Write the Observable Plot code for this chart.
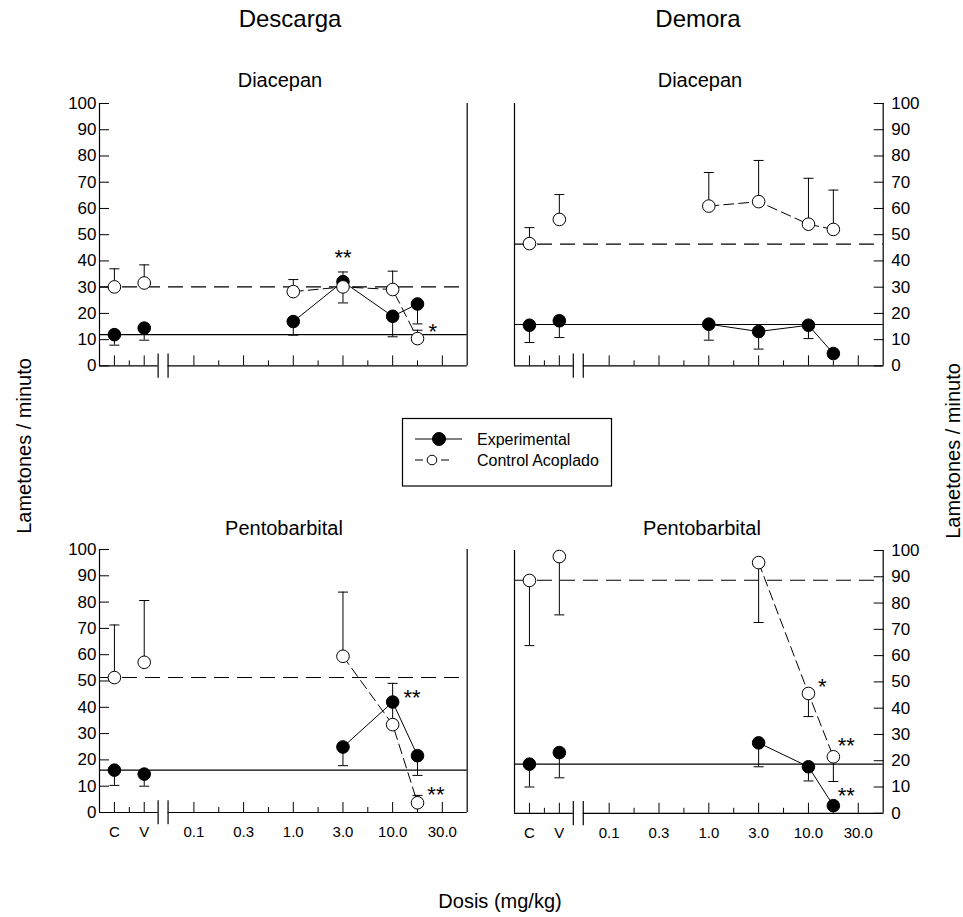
<!DOCTYPE html>
<html><head><meta charset="utf-8">
<script src="https://cdn.jsdelivr.net/npm/d3@7"></script>
<script src="https://cdn.jsdelivr.net/npm/@observablehq/plot@0.6"></script>
<style>
body{margin:0;background:#fff;}
#root{position:relative;width:963px;height:917px;overflow:hidden;background:#fff;font-family:"Liberation Sans",Arial,sans-serif;}
#root svg{position:absolute;overflow:visible;}
</style></head><body><div id="root"></div>
<script>
// ---- data ----
const doseKeys = ["C", "V", "1.0", "3.0", "10.0", "17"];
const dosePos = [-1.6, -1.0, 2, 3, 4, 4.5];
const doseIsDrug = [false, false, true, true, true, true];
const tickLabels = ["C", "V", "0.1", "0.3", "1.0", "3.0", "10.0", "30.0"];
const tickPos = [-1.6, -1.0, 0, 1, 2, 3, 4, 5];
const minorTickPos = [-1.3, 0.5, 1.5, 2.5, 3.5, 4.5];
const yTicks = [0, 10, 20, 30, 40, 50, 60, 70, 80, 90, 100];

// Descarga – Diacepan
const descDiaExp = [11.9, 14.4, 16.9, 32.1, 18.9, 23.6];
const descDiaExpErr = [7.9, 9.8, 11.7, 24.0, 11.1, 16.0];
const descDiaCtl = [30.1, 31.6, 28.3, 30.1, 29.1, 10.4];
const descDiaCtlErr = [37.0, 38.5, 32.9, 35.8, 36.1, 13.6];
const descDiaBase = [11.9, 30.1];
const descDiaStars = [{x: 3, y: 41.2, t: "**"}, {x: 4.81, y: 12.8, t: "*"}];

// Demora – Diacepan
const demDiaExp = [15.5, 17.2, 15.9, 13.1, 15.5, 4.7];
const demDiaExpErr = [8.9, 10.8, 9.8, 6.4, 10.4, null];
const demDiaCtl = [46.6, 55.8, 60.9, 62.6, 54.0, 52.0];
const demDiaCtlErr = [52.7, 65.3, 73.7, 78.3, 71.5, 67.0];
const demDiaBase = [15.8, 46.4];
const demDiaStars = [];

// Descarga – Pentobarbital
const descPenExp = [16.1, 14.6, null, 24.9, 42.0, 21.6];
const descPenExpErr = [10.3, 10.0, null, 17.8, null, 14.1];
const descPenCtl = [51.3, 57.1, null, 59.4, 33.4, 3.7];
const descPenCtlErr = [71.3, 80.6, null, 83.8, 49.1, 6.5];
const descPenBase = [16.1, 51.3];
const descPenStars = [{x: 4.39, y: 43.6, t: "**"}, {x: 4.87, y: 6.7, t: "**"}];

// Demora – Pentobarbital
const demPenExp = [18.7, 23.1, null, 26.8, 17.7, 2.9];
const demPenExpErr = [10.0, 13.5, null, 17.7, 12.3, null];
const demPenCtl = [88.6, 97.7, null, 95.4, 45.6, 21.5];
const demPenCtlErr = [63.8, 75.5, null, 72.6, 36.8, 12.1];
const demPenBase = [18.7, 88.7];
const demPenStars = [{x: 4.28, y: 48.2, t: "*"}, {x: 4.76, y: 25.5, t: "**"}, {x: 4.76, y: 6.5, t: "**"}];

// ---- layout ----
const FONT = "Liberation Sans, Arial, Helvetica, sans-serif";
const xDomain = [-1.9, 5.5];
const breaks = [-0.72, -0.52];
const labelMap = new Map(tickPos.map((p, i) => [p, tickLabels[i]]));
const cap = {draw(ctx) { ctx.moveTo(-5, 0); ctx.lineTo(5, 0); }};
const root = document.getElementById("root");

function rows(vals, errs) {
  return doseKeys.map((k, i) => ({dose: k, x: dosePos[i], v: vals[i], e: errs[i], drug: doseIsDrug[i]}))
    .filter(d => d.v != null);
}

function panel(cfg) {
  const {left, top, right, bottom, side, showX, exp, expErr, ctl, ctlErr, base, stars} = cfg;
  const mL = 70, mR = 80, mT = 12, mB = 45;
  const E = rows(exp, expErr), C = rows(ctl, ctlErr);
  const Ee = E.filter(d => d.e != null), Ce = C.filter(d => d.e != null);
  const El = E.filter(d => d.drug), Cl = C.filter(d => d.drug);
  const frameX = side === "left" ? xDomain[1] : xDomain[0];
  const axisXv = side === "left" ? xDomain[0] : xDomain[1];
  const svg = Plot.plot({
    width: right - left + mL + mR,
    height: bottom - top + mT + mB,
    marginLeft: mL, marginRight: mR, marginTop: mT, marginBottom: mB,
    style: {fontFamily: FONT, fontSize: "17px", color: "#000", background: "transparent", overflow: "visible"},
    x: {type: "linear", domain: xDomain, axis: null},
    y: {type: "linear", domain: [0, 100], axis: null},
    marks: [
      Plot.ruleY([base[1]], {stroke: "#000", strokeWidth: 1.1, strokeDasharray: "15,8"}),
      Plot.ruleY([base[0]], {stroke: "#000", strokeWidth: 1.1}),
      Plot.ruleY([0], {x1: xDomain[0], x2: breaks[0], stroke: "#000", strokeWidth: 1.2}),
      Plot.ruleY([0], {x1: breaks[1], x2: xDomain[1], stroke: "#000", strokeWidth: 1.2}),
      Plot.ruleX(breaks, {y1: -4.7, y2: 4.5, stroke: "#000", strokeWidth: 1.2}),
      Plot.ruleX([axisXv, frameX], {y1: 0, y2: 100, stroke: "#000", strokeWidth: 1.2}),
      Plot.axisY({anchor: side, ticks: yTicks, tickSize: 10, tickPadding: side === "left" ? 3 : 8,
        dx: side === "left" ? 10 : -10, label: null, fontSize: 17, tickFormat: d => String(d)}),
      Plot.axisX({anchor: "bottom", ticks: minorTickPos, tickSize: 5, dy: -5, tickFormat: () => "", label: null}),
      Plot.axisX({anchor: "bottom", ticks: tickPos, tickSize: 10, dy: -10, tickPadding: 20, lineAnchor: "middle",
        tickFormat: d => showX ? labelMap.get(d) : "", label: null, fontSize: 15}),
      Plot.line(El, {x: "x", y: "v", stroke: "#000", strokeWidth: 1}),
      Plot.line(Cl, {x: "x", y: "v", stroke: "#000", strokeWidth: 1, strokeDasharray: "10,5"}),
      Plot.ruleX(Ee, {x: "x", y1: "v", y2: "e", stroke: "#000", strokeWidth: 1}),
      Plot.dot(Ee, {x: "x", y: "e", symbol: cap, stroke: "#000", fill: "none", strokeWidth: 1}),
      Plot.ruleX(Ce, {x: "x", y1: "v", y2: "e", stroke: "#000", strokeWidth: 1}),
      Plot.dot(Ce, {x: "x", y: "e", symbol: cap, stroke: "#000", fill: "none", strokeWidth: 1}),
      Plot.dot(E, {x: "x", y: "v", r: 6.3, fill: "#000", stroke: "#000", strokeWidth: 1}),
      Plot.dot(C, {x: "x", y: "v", r: 6.3, fill: "#fff", stroke: "#000", strokeWidth: 1}),
      Plot.text(stars, {x: "x", y: "y", text: "t", fontSize: 22, fill: "#000"})
    ]
  });
  svg.style.left = (left - mL) + "px";
  svg.style.top = (top - mT) + "px";
  root.appendChild(svg);
}

panel({left: 99.3, top: 103.3, right: 467, bottom: 365.7, side: "left", showX: false,
  exp: descDiaExp, expErr: descDiaExpErr, ctl: descDiaCtl, ctlErr: descDiaCtlErr, base: descDiaBase, stars: descDiaStars});
panel({left: 514, top: 103.3, right: 882.7, bottom: 365.7, side: "right", showX: false,
  exp: demDiaExp, expErr: demDiaExpErr, ctl: demDiaCtl, ctlErr: demDiaCtlErr, base: demDiaBase, stars: demDiaStars});
panel({left: 99.3, top: 549.3, right: 467, bottom: 812.3, side: "left", showX: true,
  exp: descPenExp, expErr: descPenExpErr, ctl: descPenCtl, ctlErr: descPenCtlErr, base: descPenBase, stars: descPenStars});
panel({left: 514, top: 549.5, right: 882.7, bottom: 812.3, side: "right", showX: true,
  exp: demPenExp, expErr: demPenExpErr, ctl: demPenCtl, ctlErr: demPenCtlErr, base: demPenBase, stars: demPenStars});

// ---- titles, axis labels, legend ----
const ov = d3.select(root).append("svg").attr("width", 963).attr("height", 917)
  .style("left", "0px").style("top", "0px").style("font-family", FONT);
function txt(x, y, s, size, rot) {
  const t = ov.append("text").attr("x", x).attr("y", y).attr("text-anchor", "middle")
    .attr("font-size", size).attr("fill", "#000").text(s);
  if (rot) t.attr("transform", `rotate(${rot},${x},${y})`);
  return t;
}
txt(290, 27, "Descarga", 24);
txt(698, 27, "Demora", 24);
txt(280, 87, "Diacepan", 20);
txt(700, 87, "Diacepan", 20);
txt(284, 535, "Pentobarbital", 20);
txt(702, 535, "Pentobarbital", 20);
txt(31, 446, "Lametones / minuto", 20, -90);
txt(960, 451, "Lametones / minuto", 20, -90);
txt(500, 908, "Dosis (mg/kg)", 20);

// legend
const lg = ov.append("g");
lg.append("rect").attr("x", 402.5).attr("y", 418.5).attr("width", 209).attr("height", 67.5)
  .attr("fill", "#fff").attr("stroke", "#000").attr("stroke-width", 1.2);
lg.append("line").attr("x1", 415).attr("x2", 462).attr("y1", 439).attr("y2", 439).attr("stroke", "#000");
lg.append("circle").attr("cx", 439).attr("cy", 439).attr("r", 6.5).attr("fill", "#000").attr("stroke", "#000");
lg.append("line").attr("x1", 415).attr("x2", 423).attr("y1", 460).attr("y2", 460).attr("stroke", "#000");
lg.append("line").attr("x1", 441).attr("x2", 449).attr("y1", 460).attr("y2", 460).attr("stroke", "#000");
lg.append("circle").attr("cx", 432).attr("cy", 460).attr("r", 4.8).attr("fill", "#fff").attr("stroke", "#000");
lg.append("text").attr("x", 477).attr("y", 445).attr("font-size", 16).text("Experimental");
lg.append("text").attr("x", 477).attr("y", 466).attr("font-size", 16).text("Control Acoplado");
</script></body></html>
